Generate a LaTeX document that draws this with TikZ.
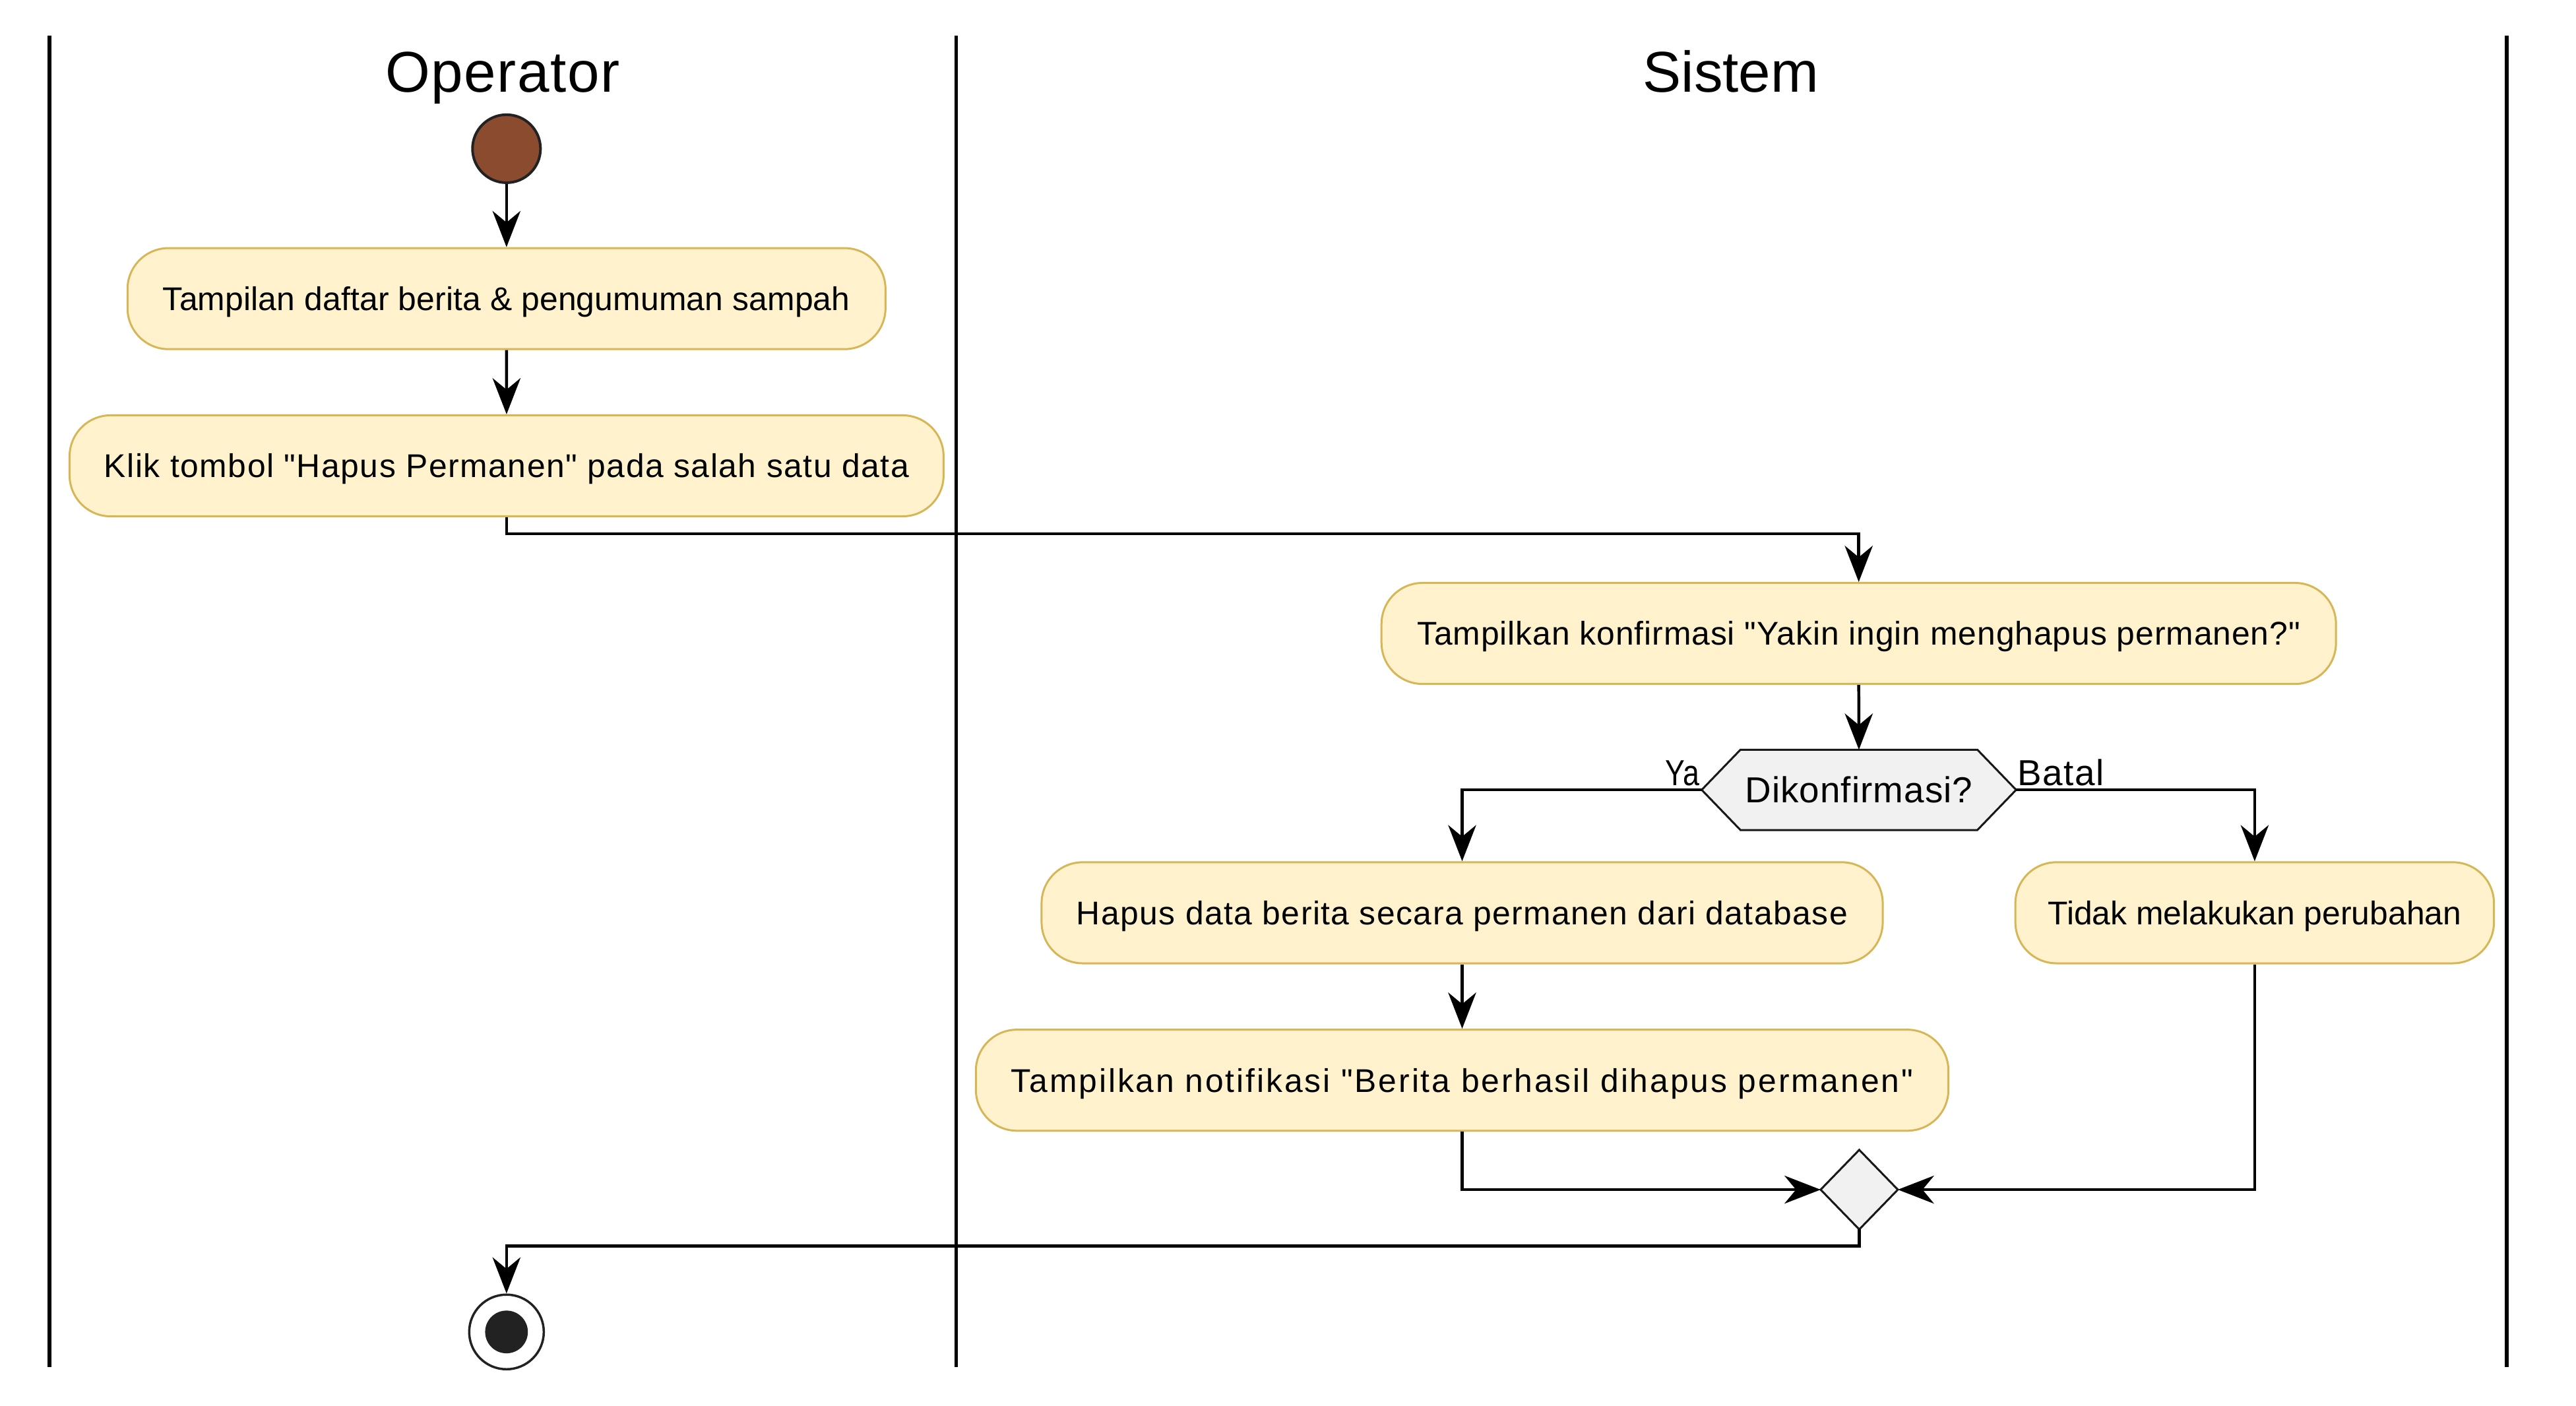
\documentclass[tikz,border=0pt]{standalone}
\usepackage{fontspec}
\setmainfont{Liberation Sans}
\newfontfamily\lsans{Liberation Sans}
\usetikzlibrary{arrows.meta,calc,backgrounds}
\definecolor{actfill}{HTML}{FFF2CC}
\definecolor{actdraw}{HTML}{D6B656}
\definecolor{decfill}{HTML}{F1F1F1}
\definecolor{decdraw}{HTML}{181818}
\definecolor{startfill}{HTML}{8A4B2F}
\definecolor{darkc}{HTML}{222222}
\newcommand{\ls}[2]{{\addfontfeature{LetterSpace=#1}#2}}
\begin{document}
\begin{tikzpicture}[x=1pt,y=-1pt,
  act/.style={draw=actdraw, fill=actfill, line width=1.2pt, rounded corners=25pt,
    minimum height=61.5pt, inner sep=0pt, text height=14.3pt, text depth=0pt,
    font=\lsans\fontsize{20}{24}\selectfont},
  decbox/.style={rectangle, inner sep=0pt, minimum width=191pt, minimum height=48.5pt,
    text height=15.75pt, text depth=0pt, font=\lsans\fontsize{22}{26}\selectfont},
  mergebox/.style={rectangle, inner sep=0pt, minimum width=46.6pt, minimum height=48pt},
  decshape/.style={draw=decdraw, fill=decfill, line width=1.2pt, line join=miter},
  flow/.style={line width=1.8pt, draw=black, -{Stealth[length=22pt,width=17pt,inset=7pt]}},
  lane/.style={line width=2.3pt, draw=black},
  lbl/.style={inner sep=0pt, font=\lsans\fontsize{22}{26}\selectfont},
  lanetitle/.style={inner sep=0pt, font=\lsans\fontsize{35}{40}\selectfont},
  startnode/.style={circle, draw=darkc, fill=startfill, line width=1.6pt, minimum size=41.4pt, inner sep=0pt},
  endnode/.style={circle, draw=darkc, fill=white, line width=1.4pt, minimum size=45.4pt, inner sep=0pt}
]
\useasboundingbox (0,0) rectangle (1568,855.3);

% swimlane borders
\coordinate (l1t) at (30,21.8);   \coordinate (l1b) at (30,832);
\coordinate (l2t) at (582,21.8);  \coordinate (l2b) at (582,832);
\coordinate (l3t) at (1525.7,21.8); \coordinate (l3b) at (1525.7,832);
\draw[lane] (l1t) -- (l1b);
\draw[lane] (l2t) -- (l2b);
\draw[lane] (l3t) -- (l3b);

\node[lanetitle, anchor=base] (t1) at (306,56) {\ls{1.8}{Operator}};
\node[lanetitle, anchor=base] (t2) at (1053.5,56) {Sistem};

% nodes
\node[startnode] (s) at (308.3,90.5) {};
\node[act, minimum width=461.4pt] (a1) at (308.3,181.75) {\ls{0.35}{Tampilan daftar berita \& pengumuman sampah}};
\node[act, minimum width=532pt] (a2) at (308.35,283.5) {\ls{3.1}{Klik tombol "Hapus Permanen" pada salah satu data}};
\node[act, minimum width=581pt] (a3) at (1131.4,385.5) {\ls{1.87}{Tampilkan konfirmasi "Yakin ingin menghapus permanen?"}};
\node[decbox] (d1) at (1131.5,480.7) {\ls{2.0}{Dikonfirmasi?}};
\node[act, minimum width=512pt] (a4) at (890,555.5) {\ls{2.95}{Hapus data berita secara permanen dari database}};
\node[act, minimum width=592pt] (a5) at (890,657.4) {\ls{5.8}{Tampilkan notifikasi "Berita berhasil dihapus permanen"}};
\node[act, minimum width=291.3pt] (a6) at (1372.4,555.5) {Tidak melakukan perubahan};
\node[mergebox] (m1) at (1131.7,724) {};
\node[endnode] (e) at (308.3,810.6) {};
\fill[darkc] (e.center) circle (13pt);

\begin{pgfonlayer}{background}
\fill[white] (0,0) rectangle (1568,855.3);
\draw[decshape] (d1.west) -- ($(d1.north west)+(23.6,0)$) -- ($(d1.north east)+(-23.6,0)$)
  -- (d1.east) -- ($(d1.south east)+(-23.6,0)$) -- ($(d1.south west)+(23.6,0)$) -- cycle;
\draw[decshape] (m1.west) -- (m1.north) -- (m1.east) -- (m1.south) -- cycle;
\end{pgfonlayer}

\node[lbl, anchor=base east] (ya) at (1034.5,478) {\resizebox{20.6pt}{\height}{Ya}};
\node[lbl, anchor=base west] (batal) at (1228,478) {\ls{2.6}{Batal}};

% connectors
\draw[flow] (s.south) -- (a1.north);
\draw[flow] (a1.south) -- (a2.north);
\draw[flow] (a2.south) -- ++(0,10) -| (a3.north);
\draw[flow] (a3.south) -- (d1.north);
\draw[flow] (d1.west) -| (a4.north);
\draw[flow] (d1.east) -| (a6.north);
\draw[flow] (a4.south) -- (a5.north);
\draw[flow] (a5.south) |- (m1.west);
\draw[flow] (a6.south) |- (m1.east);
\draw[flow] (m1.south) -- ++(0,10) -| (e.north);
\end{tikzpicture}
\end{document}
